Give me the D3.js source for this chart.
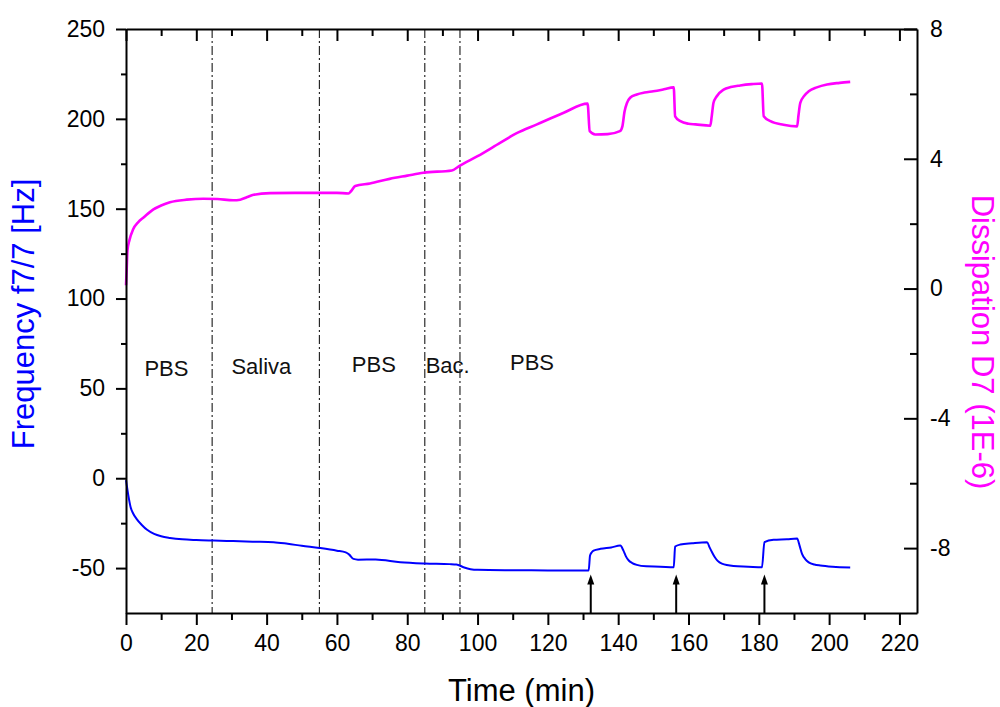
<!DOCTYPE html>
<html>
<head>
<meta charset="utf-8">
<script src="https://cdn.jsdelivr.net/npm/d3@7"></script>
<style>
  body { margin: 0; background: #fff; }
  text { font-family: "Liberation Sans", Arial, sans-serif; }
</style>
</head>
<body>
<div id="chart"></div>
<script>
// frequency trace (left axis, Hz)
const freqTime = [0, 0.3, 0.7, 1.3, 2, 3, 4.5, 6, 8, 10, 12.5, 16, 20, 25, 30.5, 36, 42, 46, 50, 55, 60, 62.5, 63.5, 64.7, 66, 71, 78, 85, 92, 94, 96, 98, 100, 110, 120, 131.6,
  132, 132.5, 133, 135, 138, 140.6, 141.5, 142.2, 143, 144, 145.3, 148, 152, 155.8,
  156.2, 157.7, 161, 165.3, 166, 166.7, 167.5, 168.3, 169.5, 172.8, 177, 180.9,
  181.6, 184.2, 188, 190.9, 191.6, 192.3, 193.2, 194.2, 195.8, 197.5, 201, 206];
const freqValue = [-1, -5, -10, -16, -19.5, -22.6, -26, -28.7, -31, -32.3, -33.2, -34, -34.4, -34.7, -35, -35.3, -35.6, -36.5, -37.6, -38.8, -40.3, -41.3, -42.5, -44.9, -45.3, -45.2, -46.8, -47.5, -47.8, -48, -49.5, -50.6, -51, -51.2, -51.3, -51.4,
  -43, -41.2, -40.3, -39.3, -38.5, -37.5, -40.3, -43.5, -45.8, -47.2, -48.2, -49, -49.2, -49.6,
  -38, -36.9, -36.2, -35.6, -38.5, -41.2, -44, -46, -47.5, -48.8, -49.2, -49.6,
  -35.6, -34.3, -34, -33.6, -37.5, -42.1, -45, -46.8, -48, -48.6, -49.3, -49.7];

// dissipation trace (right axis, 1E-6)
const dissTime = [0, 0.2, 0.4, 1, 2, 3.5, 5, 7.8, 10, 12.5, 17.3, 22, 26, 30.5, 32.5, 34.5, 36.3, 41, 48, 55, 60, 63.3, 64, 65.2, 69.4, 75, 80, 84.6, 92.7, 95, 100, 106.4, 111, 116.9, 124.5, 131.3,
  131.9, 133.5, 137, 140.5, 141.2, 141.8, 142.5, 143.4, 145.3, 147.5, 150, 153, 155.8,
  156.2, 157.7, 160, 162, 166.2, 166.6, 167.1, 168, 170, 172, 174.7, 178, 180.9,
  181.4, 183.3, 187, 190.9, 191.3, 191.8, 193, 194.2, 196.5, 199.4, 203, 206];
const dissValue = [0.1, 0.6, 1.16, 1.5, 1.82, 2.05, 2.19, 2.44, 2.56, 2.66, 2.74, 2.77, 2.76, 2.72, 2.74, 2.82, 2.89, 2.94, 2.95, 2.95, 2.95, 2.93, 3.0, 3.16, 3.24, 3.38, 3.48, 3.57, 3.64, 3.79, 4.08, 4.49, 4.78, 5.06, 5.42, 5.70,
  4.85, 4.75, 4.76, 4.85, 5.0, 5.45, 5.72, 5.88, 5.98, 6.04, 6.08, 6.14, 6.2,
  5.31, 5.16, 5.08, 5.06, 5.02, 5.3, 5.72, 5.92, 6.13, 6.21, 6.26, 6.3, 6.32,
  5.31, 5.16, 5.05, 5.0, 5.35, 5.72, 5.95, 6.08, 6.2, 6.29, 6.34, 6.37];

// phases
const phaseLines = [24.5, 55, 85, 95];
const phaseNames = ["PBS", "Saliva", "PBS", "Bac.", "PBS"];
const phaseNameTime = [11.5, 38.5, 70.5, 91.5, 115.5];
const phaseNameFreq = [57, 58, 59, 58.5, 60];
const injections = [132.2, 156.5, 181.6];

// ticks
const xMajor = d3.range(0, 221, 20);
const xMinor = d3.range(10, 220, 20);
const yLeftMajor = [-50, 0, 50, 100, 150, 200, 250];
const yLeftMinor = [-25, 25, 75, 125, 175, 225];
const yRightMajor = [-8, -4, 0, 4, 8];
const yRightMinor = [-6, -2, 2, 6];

const width = 1000, height = 707;
const plotLeft = 126, plotRight = 917, plotTop = 29, plotBottom = 613;

const svg = d3.select("#chart")
  .append("svg")
  .attr("width", width)
  .attr("height", height);

const x = d3.scaleLinear().domain([0, 225]).range([plotLeft, plotRight]);
const y = d3.scaleLinear().domain([-75, 250]).range([plotBottom, plotTop]);
const y2 = d3.scaleLinear().domain([-10, 8]).range([plotBottom, plotTop]);

// phase separators
svg.append("g")
  .selectAll("line")
  .data(phaseLines)
  .join("line")
  .attr("x1", d => x(d)).attr("x2", d => x(d))
  .attr("y1", plotTop).attr("y2", plotBottom)
  .attr("stroke", "#000")
  .attr("stroke-width", 1)
  .attr("stroke-dasharray", "9,3,2,3");

// traces
const freqLine = d3.line()
  .x((d, i) => x(freqTime[i]))
  .y(d => y(d))
  .curve(d3.curveMonotoneX);
const dissLine = d3.line()
  .x((d, i) => x(dissTime[i]))
  .y(d => y2(d))
  .curve(d3.curveMonotoneX);

svg.append("path")
  .datum(freqValue)
  .attr("fill", "none")
  .attr("stroke", "#0000ff")
  .attr("stroke-width", 2)
  .attr("stroke-linejoin", "round")
  .attr("d", freqLine);

svg.append("path")
  .datum(dissValue)
  .attr("fill", "none")
  .attr("stroke", "#ff00ff")
  .attr("stroke-width", 2.6)
  .attr("stroke-linejoin", "round")
  .attr("d", dissLine);

// phase labels
svg.append("g")
  .selectAll("text")
  .data(phaseNames)
  .join("text")
  .attr("x", (d, i) => x(phaseNameTime[i]))
  .attr("y", (d, i) => y(phaseNameFreq[i]))
  .attr("text-anchor", "middle")
  .style("font-size", "22px")
  .style("fill", "#111")
  .text(d => d);

// injection arrows
const arrows = svg.append("g");
arrows.selectAll("line")
  .data(injections)
  .join("line")
  .attr("x1", d => x(d)).attr("x2", d => x(d))
  .attr("y1", y(-75)).attr("y2", y(-57))
  .attr("stroke", "#000")
  .attr("stroke-width", 2);
arrows.selectAll("path")
  .data(injections)
  .join("path")
  .attr("d", d => {
    const tipY = y(-53.6), cx = x(d);
    return `M${cx},${tipY} L${cx - 3.5},${tipY + 10} L${cx + 3.5},${tipY + 10} Z`;
  })
  .attr("fill", "#000");

// axes
const plain = d => String(d);
function styleAxis(g) {
  g.select(".domain").attr("stroke-width", 2);
  g.selectAll(".tick line").attr("stroke-width", 2);
  g.selectAll(".tick text").style("font-size", "23px").attr("fill", "#000");
}
function minor(g) {
  g.select(".domain").remove();
  g.selectAll(".tick line").attr("stroke-width", 2);
}

svg.append("g")
  .attr("transform", `translate(0,${plotBottom})`)
  .call(d3.axisBottom(x).tickValues(xMajor).tickFormat(plain).tickSize(12).tickSizeOuter(0).tickPadding(10))
  .call(styleAxis);
svg.append("g")
  .attr("transform", `translate(0,${plotBottom})`)
  .call(d3.axisBottom(x).tickValues(xMinor).tickSize(7).tickFormat(""))
  .call(minor);

svg.append("g")
  .attr("transform", `translate(0,${plotTop})`)
  .call(d3.axisTop(x).tickValues(xMajor).tickSize(-12).tickSizeOuter(0).tickFormat(""))
  .call(styleAxis);
svg.append("g")
  .attr("transform", `translate(0,${plotTop})`)
  .call(d3.axisTop(x).tickValues(xMinor).tickSize(-7).tickFormat(""))
  .call(minor);

svg.append("g")
  .attr("transform", `translate(${plotLeft},0)`)
  .call(d3.axisLeft(y).tickValues(yLeftMajor).tickFormat(plain).tickSize(10).tickSizeOuter(0).tickPadding(11))
  .call(styleAxis);
svg.append("g")
  .attr("transform", `translate(${plotLeft},0)`)
  .call(d3.axisLeft(y).tickValues(yLeftMinor).tickSize(5).tickFormat(""))
  .call(minor);

svg.append("g")
  .attr("transform", `translate(${plotRight},0)`)
  .call(d3.axisRight(y2).tickValues(yRightMajor).tickFormat(plain).tickSize(-13).tickSizeOuter(0).tickPadding(13))
  .call(styleAxis);
svg.append("g")
  .attr("transform", `translate(${plotRight},0)`)
  .call(d3.axisRight(y2).tickValues(yRightMinor).tickSize(-7).tickFormat(""))
  .call(minor);

// axis titles
svg.append("text")
  .attr("x", (plotLeft + plotRight) / 2)
  .attr("y", 701)
  .attr("text-anchor", "middle")
  .style("font-size", "31px")
  .text("Time (min)");

svg.append("text")
  .attr("transform", "translate(34,314) rotate(-90)")
  .attr("text-anchor", "middle")
  .style("font-size", "31px")
  .attr("fill", "#0000ff")
  .text("Frequency f7/7 [Hz]");

svg.append("text")
  .attr("transform", "translate(972,342) rotate(90)")
  .attr("text-anchor", "middle")
  .style("font-size", "31px")
  .attr("fill", "#ff00ff")
  .text("Dissipation D7 (1E-6)");
</script>
</body>
</html>
